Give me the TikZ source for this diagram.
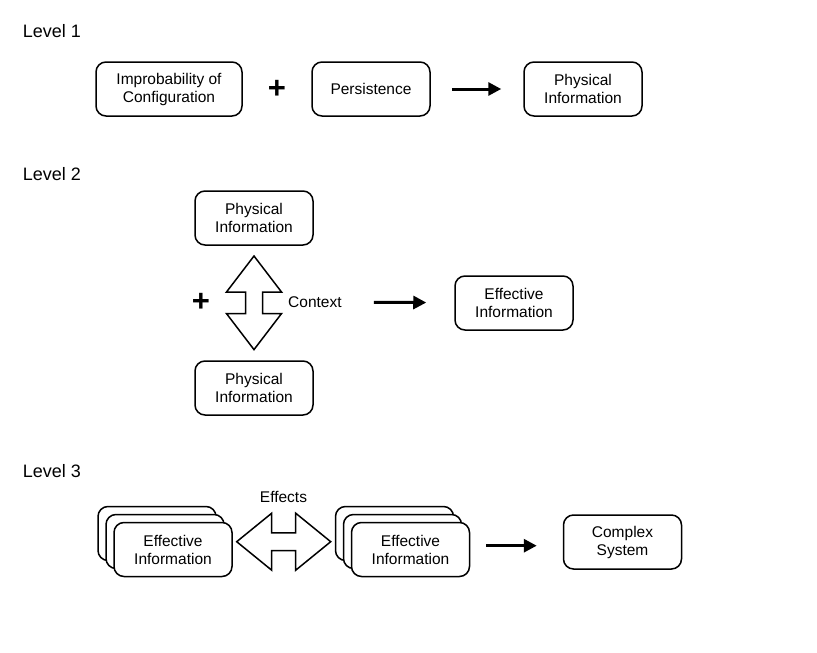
\documentclass[tikz,border=0pt]{standalone}
\usepackage{fontspec}
\setmainfont{Liberation Sans}
\usetikzlibrary{arrows.meta,positioning}

\begin{document}
\begin{tikzpicture}[x=1pt, y=-1pt,
  box/.style={draw, line width=1.5pt, rounded corners=10pt, align=center, fill=white,
    minimum width=118pt, minimum height=54pt, inner sep=0pt,
    font=\fontsize{15.5}{18}\selectfont},
  level/.style={anchor=base west, inner sep=0pt, font=\fontsize{18}{20}\selectfont},
  plus/.style={font=\fontsize{31}{32}\selectfont\bfseries, inner sep=0pt},
  note/.style={font=\fontsize{15.5}{18}\selectfont, inner sep=0pt},
  fat/.style={draw, line width=1.5pt, fill=white, line join=miter},
  flow/.style={-{Triangle[length=13pt,width=13pt]}, line width=3pt}
]
\useasboundingbox (0,0) rectangle (817,653);

% Level 1
\node[level] (lev1) at (22.7,37) {Level 1};
\node[box, minimum width=146pt] (improb) at (169,89) {Improbability of\\Configuration};
\node[plus] (plus1) at (277,89) {+};
\node[box] (persist) at (371,89) {Persistence};
\node[box] (phys1) at (583,89) {Physical\\Information};
\draw[flow, shorten <=21pt, shorten >=22pt] (persist) -- (phys1);

% Level 2
\node[level] (lev2) at (22.7,180) {Level 2};
\node[box] (phys2) at (254,218) {Physical\\Information};
\node[box] (phys3) at (254,388) {Physical\\Information};
\node[plus] (plus2) at (201,302) {+};
\draw[fat] (254,302.5) ++(0,-46.5) -- ++(27.5,36) -- ++(-19,0) -- ++(0,21.6)
  -- ++(19,0) -- ++(-27.5,36) -- ++(-27.5,-36) -- ++(19,0) -- ++(0,-21.6)
  -- ++(-19,0) -- cycle;
\node[note, anchor=west] (context) at (288,302) {Context};
\node[box] (eff) at (514,303) {Effective\\Information};
\draw[flow, shorten <=32pt, shorten >=28pt] (context) -- (eff);

% Level 3
\node[level] (lev3) at (22.7,477.7) {Level 3};
\node[box] (leftc) at (157,533.5) {};
\node[box] (leftb) at (165,541.5) {};
\node[box] (lefta) at (173,549.5) {Effective\\Information};
\draw[fat] (283.7,541.7) ++(-47,0) -- ++(35,-28.5) -- ++(0,19.7) -- ++(24,0)
  -- ++(0,-19.7) -- ++(35,28.5) -- ++(-35,28.5) -- ++(0,-19.7) -- ++(-24,0)
  -- ++(0,19.7) -- cycle;
\node[note, anchor=base] (effects) at (283.5,502) {Effects};
\node[box] (rightc) at (394.5,533.5) {};
\node[box] (rightb) at (402.5,541.5) {};
\node[box] (righta) at (410.5,549.5) {Effective\\Information};
\node[box] (complex) at (622.5,542) {Complex\\System};
\draw[flow] ([xshift=16pt,yshift=3.8pt]righta.east)
  -- ([xshift=-26pt,yshift=-3.7pt]complex.west);
\end{tikzpicture}
\end{document}
